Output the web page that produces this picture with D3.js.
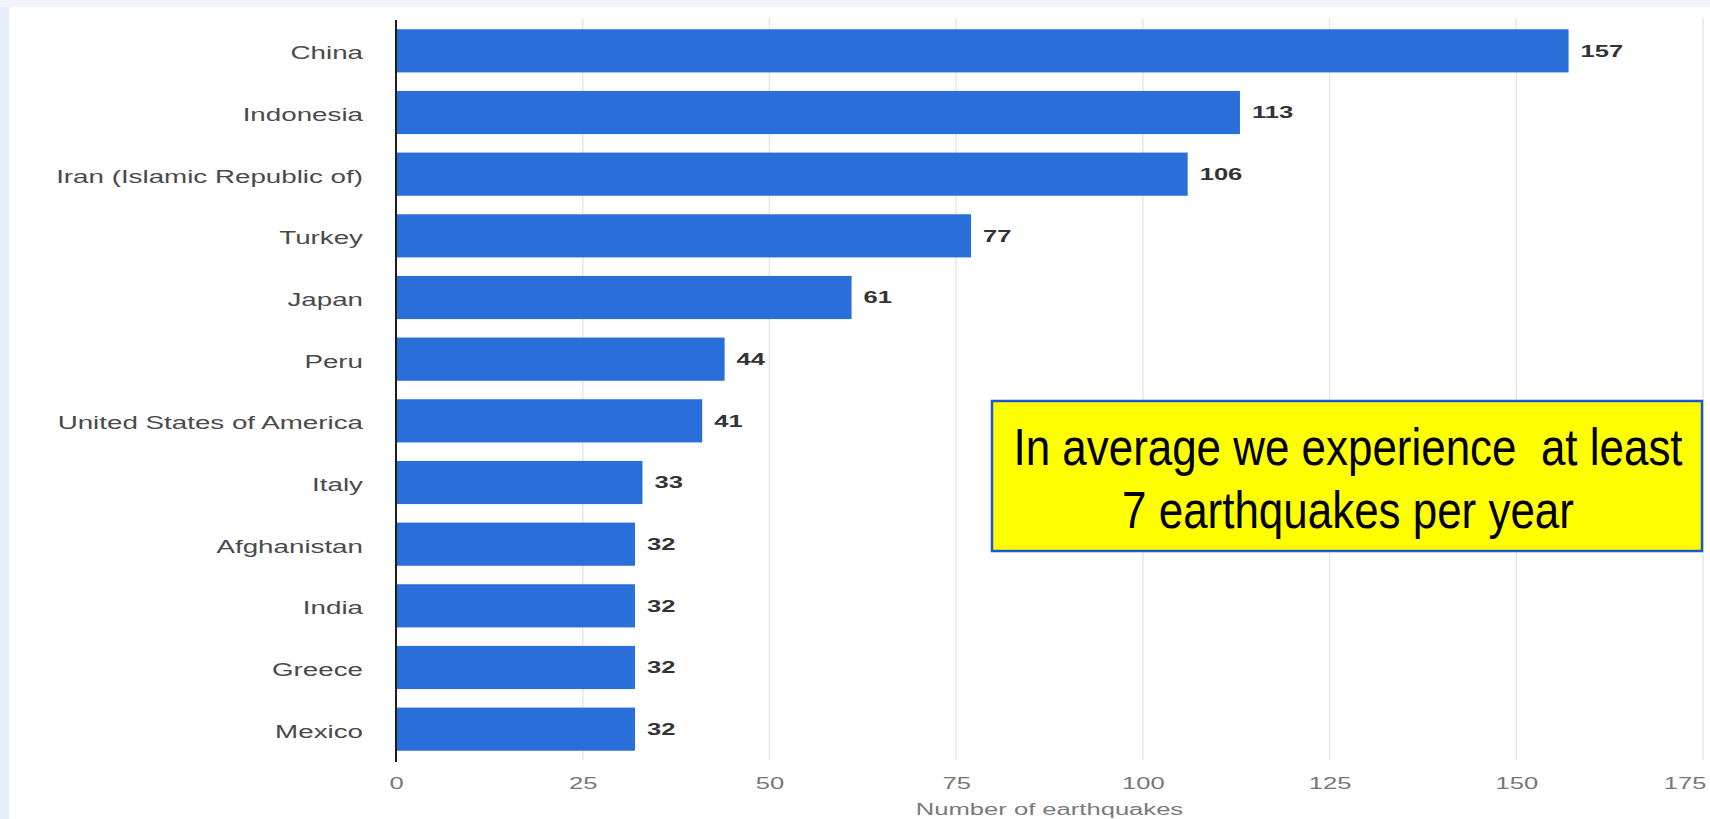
<!DOCTYPE html>
<html>
<head>
<meta charset="utf-8">
<script src="https://cdn.jsdelivr.net/npm/d3@7"></script>
<style>
  html, body { margin: 0; padding: 0; background: #e8f0fb; }
  svg { display: block; }
  text { font-family: "Liberation Sans", Arial, sans-serif; }
</style>
</head>
<body>
<svg id="chart" width="1710" height="819"></svg>
<script>
const categories = ["China", "Indonesia", "Iran (Islamic Republic of)", "Turkey", "Japan", "Peru",
  "United States of America", "Italy", "Afghanistan", "India", "Greece", "Mexico"];
const values = [157, 113, 106, 77, 61, 44, 41, 33, 32, 32, 32, 32];
const xTicks = [0, 25, 50, 75, 100, 125, 150, 175];
const xTitle = "Number of earthquakes";
const noteLines = ["In average we experience  at least", "7 earthquakes per year"];

const W = 1710, H = 819;
const svg = d3.select("#chart");

// background frame
svg.append("rect").attr("x", 0).attr("y", 0).attr("width", W).attr("height", H).attr("fill", "#e6eefa");
svg.append("rect").attr("x", 0).attr("y", 0).attr("width", W).attr("height", 7).attr("fill", "#f1f4f9");
svg.append("rect").attr("x", 9).attr("y", 7).attr("width", W - 9).attr("height", H - 7).attr("fill", "#ffffff");

const x = d3.scaleLinear().domain([0, 175]).range([396, 1703]);
const y = d3.scaleBand().domain(categories).range([20, 760]).paddingInner(0.3).paddingOuter(0.15);

const SX = 1.5; // horizontal stretch of chart text

// gridlines
svg.append("g").selectAll("line").data(xTicks.filter(d => d > 0)).join("line")
  .attr("x1", d => x(d)).attr("x2", d => x(d))
  .attr("y1", 18).attr("y2", 760)
  .attr("stroke", "#e6e6e6").attr("stroke-width", 1.5);

// bars
svg.append("g").selectAll("rect").data(categories).join("rect")
  .attr("x", x(0) + 1)
  .attr("y", d => y(d))
  .attr("width", (d, i) => x(values[i]) - x(0) - 1)
  .attr("height", y.bandwidth())
  .attr("fill", "#2a6fd9");

// value labels
svg.append("g").selectAll("text").data(categories).join("text")
  .attr("transform", (d, i) => `translate(${x(values[i]) + 12},${y(d) + y.bandwidth() / 2 + 5.9}) scale(1.55,1)`)
  .attr("font-size", 16.5).attr("font-weight", "bold").attr("fill", "#333")
  .text((d, i) => values[i]);

// y axis (category labels)
const yAxis = svg.append("g").attr("transform", `translate(${x(0)},0)`)
  .call(d3.axisLeft(y).tickSize(0).tickPadding(33));
yAxis.select(".domain").remove();
yAxis.selectAll("text")
  .attr("x", 0).attr("dy", "0.45em")
  .attr("transform", `translate(-33,0) scale(${SX},1)`)
  .attr("font-size", 18.5).attr("fill", "#4a4a4a")
  .style("font-family", "'Liberation Sans', Arial, sans-serif");

// axis line
svg.append("line").attr("x1", x(0)).attr("x2", x(0)).attr("y1", 20).attr("y2", 762)
  .attr("stroke", "#1e1e1e").attr("stroke-width", 2);

// x axis
const xAxis = svg.append("g").attr("transform", `translate(0,760)`)
  .call(d3.axisBottom(x).tickValues(xTicks).tickSize(0).tickPadding(17));
xAxis.select(".domain").remove();
xAxis.selectAll("text")
  .attr("font-size", 16.5).attr("fill", "#777")
  .style("font-family", "'Liberation Sans', Arial, sans-serif")
  .attr("text-anchor", d => d === 175 ? "end" : "middle")
  .attr("x", 0)
  .attr("transform", d => d === 175 ? `translate(3,0) scale(1.55,1)` : `scale(1.55,1)`);

// x title
svg.append("text")
  .attr("transform", `translate(${(x(0) + x(175)) / 2},815) scale(1.6,1)`)
  .attr("text-anchor", "middle").attr("font-size", 16).attr("fill", "#7a7a7a")
  .text(xTitle);

// annotation box
const box = svg.append("g");
box.append("rect").attr("x", 992).attr("y", 401).attr("width", 710).attr("height", 150)
  .attr("fill", "#ffff00").attr("stroke", "#1f56d1").attr("stroke-width", 2.5);
box.selectAll("text").data(noteLines).join("text")
  .attr("transform", (d, i) => `translate(1348,${465 + i * 63}) scale(0.845,1)`)
  .attr("text-anchor", "middle").attr("font-size", 52).attr("fill", "#000")
  .style("white-space", "pre").attr("xml:space", "preserve")
  .text(d => d);
</script>
</body>
</html>
